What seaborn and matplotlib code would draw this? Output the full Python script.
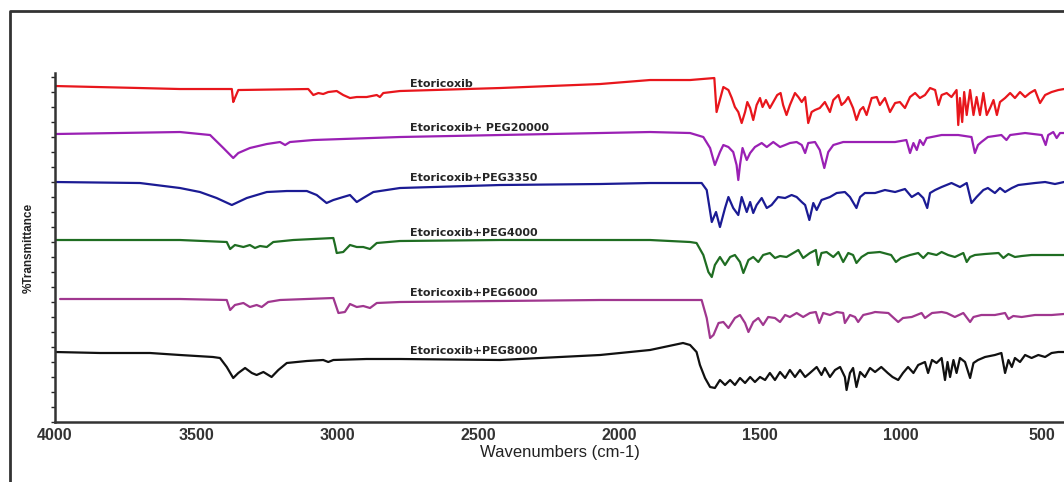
import matplotlib
matplotlib.use("Agg")
import matplotlib.pyplot as plt
from matplotlib.ticker import MultipleLocator
from matplotlib.lines import Line2D
import seaborn as sns
import pandas as pd

# FTIR spectra, stacked; transmittance in arbitrary (offset) units
samples = ["Etoricoxib", "Etoricoxib+ PEG20000", "Etoricoxib+PEG3350",
           "Etoricoxib+PEG4000", "Etoricoxib+PEG6000", "Etoricoxib+PEG8000"]

etori_wn = [4000, 3700, 3557, 3380, 3373, 3368, 3362, 3350, 3102, 3084, 3066, 3049, 3031, 3001,
            2978, 2954, 2930, 2895, 2859, 2848, 2836, 2777, 2422, 2067, 1890, 1748, 1662, 1654,
            1630, 1612, 1600, 1589, 1577, 1565, 1553, 1545, 1535, 1524, 1512, 1500, 1491, 1479,
            1465, 1453, 1439, 1427, 1418, 1406, 1394, 1376, 1364, 1352, 1340, 1329, 1317, 1305,
            1288, 1270, 1252, 1240, 1222, 1211, 1199, 1187, 1170, 1158, 1145, 1134, 1122, 1104,
            1086, 1075, 1057, 1039, 1021, 1004, 986, 968, 950, 933, 915, 897, 879, 867, 856, 838,
            821, 803, 797, 791, 783, 776, 767, 755, 743, 732, 720, 708, 696, 684, 672, 660, 649,
            631, 613, 596, 578, 560, 543, 525, 507, 489, 466, 442, 422]
etori_t = [336, 334, 333, 333, 333, 320, 324, 332, 333, 327, 329, 328, 330, 331,
           327, 324, 325, 325, 327, 325, 329, 331, 334, 338, 342, 342, 344, 310,
           335, 332, 324, 315, 310, 299, 310, 320, 314, 302, 317, 324, 315, 322,
           314, 320, 327, 329, 317, 307, 317, 329, 325, 320, 325, 299, 310, 312,
           314, 320, 310, 322, 327, 317, 320, 325, 314, 302, 312, 315, 307, 324,
           325, 317, 324, 310, 319, 320, 314, 325, 329, 324, 327, 334, 332, 317, 327, 329,
           325, 332, 297, 324, 300, 330, 307, 332, 307, 325, 307, 329, 307, 314, 322, 307, 320,
           324, 329, 324, 330, 325, 329, 332, 319, 327, 330, 332, 333]

peg20000_wn = [4000, 3557, 3450, 3403, 3368, 3350, 3309, 3249, 3202, 3184, 3167, 3084, 2777,
               2422, 2067, 1890, 1748, 1701, 1677, 1660, 1642, 1630, 1612, 1595, 1583, 1577,
               1571, 1562, 1547, 1535, 1518, 1494, 1476, 1453, 1429, 1411, 1394, 1370, 1352,
               1340, 1329, 1305, 1288, 1272, 1258, 1240, 1205, 1134, 1075, 1021, 981, 968, 956,
               944, 933, 921, 909, 856, 797, 750, 738, 727, 715, 692, 644, 626, 613, 560, 501,
               487, 478, 460, 448, 436, 422]
peg20000_t = [288, 290, 287, 274, 264, 269, 274, 278, 280, 277, 280, 282, 285,
              287, 289, 290, 289, 285, 274, 257, 270, 277, 275, 270, 257, 242,
              257, 274, 262, 269, 275, 279, 275, 280, 275, 277, 279, 280, 277,
              269, 279, 280, 272, 254, 270, 277, 280, 280, 280, 280, 282, 269, 279,
              272, 282, 277, 284, 287, 287, 285, 269, 277, 280, 285, 287, 282, 287, 289, 287,
              277, 287, 290, 284, 289, 289]

peg3350_wn = [4000, 3699, 3557, 3486, 3427, 3373, 3320, 3249, 3178, 3107, 3072, 3037, 3013,
              2978, 2954, 2930, 2907, 2871, 2777, 2422, 2067, 1890, 1748, 1707, 1689, 1671,
              1656, 1642, 1624, 1612, 1595, 1577, 1565, 1547, 1535, 1524, 1512, 1494, 1476,
              1459, 1436, 1411, 1388, 1370, 1352, 1340, 1325, 1311, 1299, 1282, 1252, 1228,
              1199, 1181, 1158, 1145, 1128, 1092, 1057, 1021, 986, 962, 939, 921, 907, 897,
              879, 856, 821, 791, 767, 750, 732, 708, 692, 667, 649, 631, 607, 584, 525, 489,
              454, 422]
peg3350_t = [240, 239, 234, 230, 224, 217, 224, 230, 231, 231, 227, 219, 222,
             225, 227, 220, 224, 230, 234, 237, 238, 239, 239, 239, 232, 200,
             210, 195, 214, 225, 214, 207, 225, 210, 220, 209, 217, 224, 214,
             217, 225, 224, 227, 225, 220, 217, 202, 219, 212, 222, 225, 229,
             230, 225, 214, 225, 229, 229, 232, 230, 233, 225, 229, 224, 214, 229,
             232, 235, 239, 235, 239, 219, 225, 232, 234, 229, 234, 230, 234, 237, 239, 240,
             238, 240]

peg4000_wn = [4000, 3557, 3391, 3379, 3362, 3332, 3309, 3291, 3273, 3249, 3226, 3155, 3013,
              3007, 3001, 2978, 2954, 2930, 2907, 2883, 2859, 2777, 2422, 2067, 1890, 1748,
              1725, 1701, 1683, 1671, 1660, 1642, 1624, 1606, 1589, 1571, 1559, 1541, 1524,
              1506, 1489, 1465, 1447, 1429, 1406, 1382, 1364, 1347, 1323, 1302, 1294, 1282,
              1264, 1240, 1222, 1205, 1187, 1170, 1158, 1140, 1117, 1075, 1035, 1018, 1000,
              968, 939, 921, 904, 874, 856, 833, 809, 779, 767, 755, 738, 702, 654, 637, 619,
              596, 572, 537, 478, 422]
peg4000_t = [182, 182, 180, 173, 177, 175, 177, 174, 176, 175, 180, 182, 184,
             177, 169, 170, 177, 175, 175, 173, 179, 181, 182, 182, 182, 180,
             179, 167, 150, 145, 157, 165, 157, 165, 167, 160, 149, 162, 165,
             160, 167, 169, 164, 166, 165, 169, 172, 164, 169, 172, 157, 169,
             170, 165, 170, 160, 169, 167, 159, 165, 169, 170, 167, 160, 164,
             167, 169, 164, 169, 167, 170, 167, 165, 169, 160, 165, 167, 168, 169, 164, 168,
             165, 166, 167, 167, 167]

peg6000_wn = [3982, 3557, 3391, 3379, 3362, 3332, 3309, 3285, 3267, 3244, 3202, 3013, 2995,
              2972, 2954, 2930, 2907, 2883, 2859, 2777, 2422, 2067, 1890, 1748, 1707, 1689,
              1677, 1665, 1647, 1630, 1612, 1589, 1571, 1553, 1541, 1524, 1506, 1489, 1471,
              1447, 1429, 1411, 1394, 1370, 1347, 1323, 1302, 1290, 1276, 1252, 1228, 1205,
              1199, 1181, 1163, 1152, 1134, 1104, 1092, 1045, 1010, 993, 962, 927, 915, 890,
              856, 838, 809, 779, 755, 743, 715, 667, 631, 619, 602, 572, 525, 466, 422]
peg6000_t = [123, 123, 122, 112, 117, 119, 115, 117, 115, 120, 122, 124, 109,
             110, 118, 115, 116, 114, 119, 120, 121, 122, 122, 122, 122, 104,
             84, 87, 99, 100, 94, 104, 107, 99, 90, 100, 104, 97, 105,
             104, 100, 107, 105, 109, 105, 109, 110, 99, 109, 107, 110, 109,
             99, 107, 105, 100, 107, 109, 110, 109, 100, 104, 105, 109, 104, 109,
             110, 109, 105, 109, 100, 105, 107, 107, 109, 103, 106, 105, 107, 107, 108]

peg8000_wn = [4000, 3840, 3663, 3557, 3440, 3415, 3391, 3368, 3350, 3326, 3302, 3285, 3261,
              3232, 3208, 3178, 3107, 3049, 3031, 3013, 2895, 2777, 2422, 2067, 1890, 1773,
              1748, 1725, 1713, 1695, 1677, 1660, 1642, 1624, 1606, 1589, 1571, 1553, 1535,
              1518, 1500, 1482, 1465, 1447, 1429, 1411, 1394, 1376, 1358, 1340, 1323, 1299,
              1282, 1270, 1252, 1234, 1216, 1199, 1193, 1181, 1170, 1158, 1145, 1128, 1110,
              1092, 1070, 1047, 1030, 1010, 993, 975, 956, 939, 915, 904, 890, 874, 856, 844,
              835, 826, 814, 803, 791, 773, 755, 743, 727, 702, 667, 644, 631, 619, 607, 596,
              578, 560, 537, 513, 489, 466, 442, 422]
peg8000_t = [70, 69, 69, 67, 65, 64, 55, 44, 49, 54, 49, 47, 50,
             45, 52, 59, 61, 62, 60, 62, 63, 63, 62, 67, 72, 79,
             77, 70, 57, 44, 35, 34, 42, 37, 42, 37, 44, 39, 45,
             40, 45, 42, 49, 42, 50, 44, 52, 45, 52, 45, 49, 55,
             47, 54, 45, 52, 55, 45, 32, 49, 54, 35, 50, 45, 54,
             50, 55, 49, 45, 42, 49, 55, 49, 57, 60, 49, 62, 59, 64, 42,
             60, 45, 62, 49, 64, 60, 44, 59, 62, 65, 67, 69, 49, 62, 55, 64,
             60, 67, 64, 67, 65, 69, 70, 70]

wn_lists = [etori_wn, peg20000_wn, peg3350_wn, peg4000_wn, peg6000_wn, peg8000_wn]
t_lists = [etori_t, peg20000_t, peg3350_t, peg4000_t, peg6000_t, peg8000_t]

frames = []
for name, wn, t in zip(samples, wn_lists, t_lists):
    frames.append(pd.DataFrame({"sample": name, "wavenumber": wn, "T": t}))
df = pd.concat(frames, ignore_index=True)

colors = ["#e8161c", "#9a20b4", "#1b1b94", "#1f6d22", "#a0378f", "#111111"]

sns.set_style("white")
plt.rcParams["font.family"] = ["Liberation Sans", "DejaVu Sans"]

fig = plt.figure(figsize=(10.64, 4.82), dpi=100)
ax = fig.add_axes([0.0517, 0.1245, 0.9483, 0.724])

sns.lineplot(data=df, x="wavenumber", y="T", hue="sample", hue_order=samples,
             palette=colors, estimator=None, legend=False, linewidth=1.6, ax=ax)

ax.set_xlim(4000, 422)
ax.set_ylim(0, 349)

# sample names written above each trace
label_y = [338, 294, 244, 189, 129, 71]
for name, y in zip(samples, label_y):
    ax.text(2741, y, name, fontsize=8, fontweight="bold", family="DejaVu Sans",
            va="center", ha="left")

ax.xaxis.set_major_locator(MultipleLocator(500))
ax.yaxis.set_major_locator(MultipleLocator(15))
ax.set_yticklabels([])
ax.tick_params(axis="x", direction="in", length=3, width=1, pad=4, labelsize=11.5)
ax.tick_params(axis="y", direction="out", length=3, width=1, left=True)
for lab in ax.get_xticklabels():
    lab.set_fontweight("bold")
    lab.set_color("#333333")

for side in ["top", "right"]:
    ax.spines[side].set_visible(False)
for side in ["left", "bottom"]:
    ax.spines[side].set_color("#333333")
    ax.spines[side].set_linewidth(1.8)

ax.set_xlabel("Wavenumbers (cm-1)", fontsize=12, color="#222222", labelpad=2)
ax.set_ylabel("%Transmittance", fontsize=8.5, fontweight="bold", color="#222222",
              labelpad=8)

# page frame (top and left edges of the scanned figure box)
fig.add_artist(Line2D([0.0094, 0.0094, 1.01], [-0.01, 0.977, 0.977],
                      transform=fig.transFigure, color="#333333", linewidth=2))

fig.savefig("out.png", dpi=100)
